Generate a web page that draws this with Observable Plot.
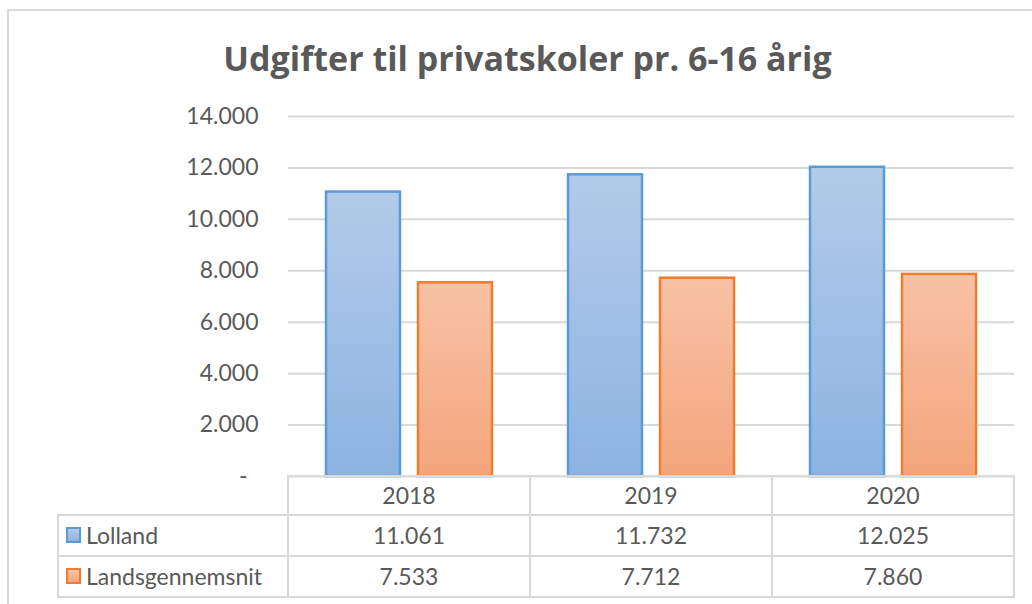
<!DOCTYPE html>
<html>
<head>
<meta charset="utf-8">
<script src="https://cdn.jsdelivr.net/npm/d3@7"></script>
<script src="https://cdn.jsdelivr.net/npm/@observablehq/plot@0.6"></script>
<style>
  body { margin: 0; background: #fff; overflow: hidden; font-family: Lato, "Liberation Sans", sans-serif; }
  #wrap { position: relative; width: 1032px; height: 604px; overflow: hidden; background: #fff; }
  #frame { position: absolute; left: 7px; top: 9px; width: 1100px; height: 700px; border: 2px solid #d9d9d9; box-sizing: border-box; }
  #title { position: absolute; left: 0; top: 36px; width: 1055px; text-align: center; font-family: "Open Sans", Lato, sans-serif; font-weight: bold; font-size: 34px; line-height: 44px; color: #595959; }
  #chart { position: absolute; left: 0; top: 100px; }
  #table { position: absolute; left: 0; top: 0; }
  .cell { position: absolute; box-sizing: border-box; display: flex; align-items: center; justify-content: center; color: #595959; font-size: 23px; white-space: nowrap; }
  .hl, .vl { position: absolute; background: #d9d9d9; }
  .key { display: inline-block; width: 11px; height: 12px; border: 2px solid; margin-right: 5px; }
</style>
</head>
<body>
<div id="wrap">
  <div id="frame"></div>
  <div id="title">Udgifter til privatskoler pr. 6-16 årig</div>
  <div id="chart"></div>
  <div id="table"></div>
</div>
<script>
// ---- data ----
const years = ["2018", "2019", "2020"];
const seriesNames = ["Lolland", "Landsgennemsnit"];
const lollandValues = [11061, 11732, 12025];
const landsValues = [7533, 7712, 7860];
const yTicks = [0, 2000, 4000, 6000, 8000, 10000, 12000, 14000];

const seriesColors = {
  "Lolland": { stroke: "#5b9bd5", top: "#b2cbe9", bottom: "#8db3e2", grad: "gradBlue" },
  "Landsgennemsnit": { stroke: "#ed7d31", top: "#f8c2a6", bottom: "#f4a57c", grad: "gradOrange" }
};

const da = d3.formatLocale({ decimal: ",", thousands: ".", grouping: [3], currency: ["", " kr."] });
const fmt = da.format(",d");

const rows = [];
years.forEach((y, i) => {
  rows.push({ year: y, series: seriesNames[0], value: lollandValues[i] });
  rows.push({ year: y, series: seriesNames[1], value: landsValues[i] });
});

const mTop = 16, plotH = 360, mBottom = 16;

const chart = Plot.plot({
  width: 1032,
  height: mTop + plotH + mBottom,
  marginTop: mTop,
  marginBottom: mBottom,
  marginLeft: 287,
  marginRight: 17,
  style: { fontFamily: "Lato, 'Liberation Sans', sans-serif", fontSize: "23px", color: "#595959", background: "transparent" },
  fx: { domain: years, padding: 0, axis: null },
  x: { domain: seriesNames, paddingInner: 0.1935, paddingOuter: 0.401, axis: null },
  y: { domain: [0, 14000], range: [mTop + plotH, mTop], axis: null, label: null },
  marks: [
    Plot.gridY(yTicks, { stroke: "#d9d9d9", strokeOpacity: 1, strokeWidth: 2 }),
    Plot.axisY(yTicks.filter(t => t !== 0), {
      label: null,
      tickSize: 0, tickPadding: 30, fill: "#595959", fontSize: 23,
      tickFormat: d => fmt(d)
    }),
    Plot.axisY([0], {
      label: null,
      tickSize: 0, tickPadding: 41, fill: "#595959", fontSize: 23,
      tickFormat: () => "-"
    }),
    ...seriesNames.map(s => Plot.barY(rows.filter(r => r.series === s), {
      fx: "year", x: "series", y: "value",
      fill: `url(#${seriesColors[s].grad})`,
      stroke: seriesColors[s].stroke, strokeWidth: 2.5
    }))
  ]
});

// gradient definitions
const defs = d3.select(chart).insert("defs", ":first-child");
for (const s of seriesNames) {
  const c = seriesColors[s];
  const g = defs.append("linearGradient").attr("id", c.grad).attr("x1", 0).attr("y1", 0).attr("x2", 0).attr("y2", 1);
  g.append("stop").attr("offset", "0%").attr("stop-color", c.top);
  g.append("stop").attr("offset", "100%").attr("stop-color", c.bottom);
}
document.getElementById("chart").appendChild(chart);

// ---- data table aligned to the fx scale ----
const fx = chart.scale("fx");
const bw = fx.bandwidth;
const table = document.getElementById("table");
const top0 = 100 + mTop + plotH;          // 476
const rowY = [top0, 514.5, 555.5, 597];
const legendLeft = 58;
const colX = years.map(y => fx.apply(y));
const right = colX[colX.length - 1] + bw;

function line(cls, x, y, w, h) {
  const d = document.createElement("div");
  d.className = cls;
  Object.assign(d.style, { left: x + "px", top: y + "px", width: w + "px", height: h + "px" });
  table.appendChild(d);
}
const lw = 2;
line("hl", colX[0] - 1, rowY[0] - 1, right - colX[0] + 2, lw);
for (let r = 1; r < rowY.length; r++) line("hl", legendLeft - 1, rowY[r] - 1, right - legendLeft + 2, lw);
line("vl", legendLeft - 1, rowY[1] - 1, lw, rowY[3] - rowY[1] + 2);
[...colX, right].forEach(x => line("vl", x - 1, rowY[0] - 1, lw, rowY[3] - rowY[0] + 2));

function cell(html, x, y, w, h, align) {
  const d = document.createElement("div");
  d.className = "cell";
  Object.assign(d.style, { left: x + "px", top: y + "px", width: w + "px", height: h + "px" });
  if (align) d.style.justifyContent = align;
  d.innerHTML = html;
  table.appendChild(d);
  return d;
}
years.forEach((y, i) => cell(y, colX[i], rowY[0], bw, rowY[1] - rowY[0]));
const seriesValues = [lollandValues, landsValues];
seriesNames.forEach((s, si) => {
  const y0 = rowY[si + 1], h = rowY[si + 2] - y0;
  const c = seriesColors[s];
  cell(`<span class="key" style="border-color:${c.stroke};background:linear-gradient(${c.top},${c.bottom})"></span>${s}`,
    legendLeft + 8, y0, colX[0] - legendLeft - 8, h, "flex-start");
  seriesValues[si].forEach((v, i) => cell(fmt(v), colX[i], y0, bw, h));
});
</script>
</body>
</html>
